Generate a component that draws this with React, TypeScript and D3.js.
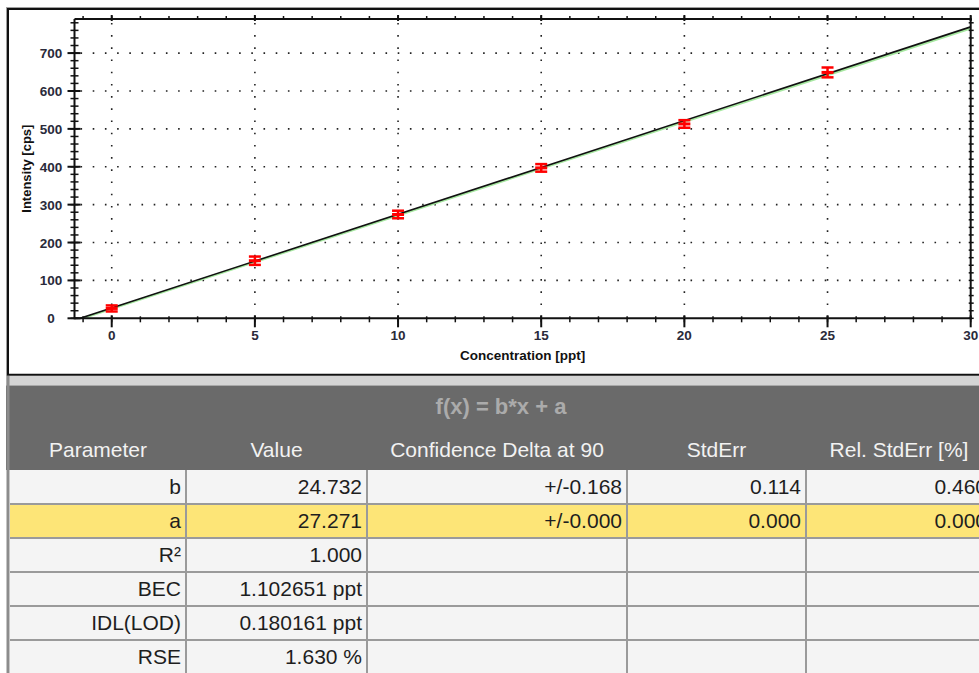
import React from "react";
import * as d3 from "d3";

// ---------- Chart data ----------
const concentrations = [0, 5, 10, 15, 20, 25];
const intensities = [26, 152, 274, 397, 513, 649];
const intensityErrors = [8, 11, 10, 10, 10, 13];
const slopeB = 24.732;
const interceptA = 27.271;
const weightedSlope = 24.68;
const weightedIntercept = 25.0;
const xTickValues = [0, 5, 10, 15, 20, 25, 30];
const xMinorTickValues = d3.range(-1, 31, 1);
const yTickValues = [0, 100, 200, 300, 400, 500, 600, 700];
const yMinorTickValues = d3.range(0, 790, 20);
const xAxisTitle = "Concentration [ppt]";
const yAxisTitle = "Intensity [cps]";

// ---------- Table data ----------
const tableTitle = "f(x) = b*x + a";
const tableHeaders = ["Parameter", "Value", "Confidence Delta at 90", "StdErr", "Rel. StdErr [%]"];
const paramNames = ["b", "a", "R²", "BEC", "IDL(LOD)", "RSE"];
const paramValues = ["24.732", "27.271", "1.000", "1.102651 ppt", "0.180161 ppt", "1.630 %"];
const confidenceDeltas = ["+/-0.168", "+/-0.000", "", "", "", ""];
const stdErrs = ["0.114", "0.000", "", "", "", ""];
const relStdErrs = ["0.460", "0.000", "", "", "", ""];
const highlightedRow = 1;

const W = 979;
const H = 673;

export default function App() {
  const plot = { left: 74.5, right: 970.7, top: 19, bottom: 318.3 };
  const x = d3.scaleLinear().domain([-1.3, 30]).range([plot.left, plot.right]);
  const y = d3.scaleLinear().domain([0, 790]).range([plot.bottom, plot.top]);

  const xStart = -interceptA / slopeB;
  const fitLine = d3
    .line<number>()
    .x((d) => x(d))
    .y((d) => y(slopeB * d + interceptA))([xStart, 30]);
  const wStart = -weightedIntercept / weightedSlope;
  const greenLine = d3
    .line<number>()
    .x((d) => x(d))
    .y((d) => y(weightedSlope * d + weightedIntercept))([wStart, 30]);

  const tickFont = { fontFamily: "'Liberation Sans', Arial, sans-serif", fontWeight: 700, fontSize: 13.5 };

  // table layout
  const colEdges = [10, 186, 367, 627, 806, 992];
  const rowTop = 470;
  const rowH = 34;
  const columns = [paramNames, paramValues, confidenceDeltas, stdErrs, relStdErrs];
  const cellFont = { fontFamily: "'Liberation Sans', Arial, sans-serif", fontSize: 21 };

  return (
    <div style={{ position: "fixed", left: 0, top: 0, width: W, height: H, overflow: "hidden", background: "#fff" }}>
      <svg width={W} height={H} style={{ display: "block" }}>
        <defs>
          <clipPath id="plotClip">
            <rect x={plot.left} y={plot.top} width={plot.right - plot.left} height={plot.bottom - plot.top} />
          </clipPath>
        </defs>
        <rect x={0} y={0} width={W} height={H} fill="#ffffff" />
        {/* chart panel frame */}
        <line x1={6} x2={W} y1={7.5} y2={7.5} stroke="#a0a0a0" strokeWidth={1} />
        <line x1={8} x2={W} y1={9} y2={9} stroke="#111" strokeWidth={2} />
        <line x1={6.5} x2={6.5} y1={7} y2={376} stroke="#a0a0a0" strokeWidth={1} />
        <line x1={8} x2={8} y1={8} y2={375} stroke="#111" strokeWidth={2} />
        <line x1={7} x2={W} y1={374.8} y2={374.8} stroke="#111" strokeWidth={2} />

        {/* grid */}
        <g stroke="#222" strokeWidth={1.6} strokeDasharray="1.6 10.6">
          {xTickValues.filter((v) => v < 30).map((v) => (
            <line key={"gx" + v} x1={x(v)} x2={x(v)} y1={plot.bottom - 1} y2={plot.top} />
          ))}
          {yTickValues.filter((v) => v > 0).map((v) => (
            <line key={"gy" + v} x1={plot.left + 6} x2={plot.right} y1={y(v)} y2={y(v)} />
          ))}
        </g>

        {/* regression lines */}
        <g clipPath="url(#plotClip)">
          <path d={greenLine || ""} fill="none" stroke="#a6e8a0" strokeWidth={2.2} />
          <path d={fitLine || ""} fill="none" stroke="#111" strokeWidth={1.6} />
        </g>

        {/* data points with error bars */}
        <g stroke="#ff0000" fill="none">
          {concentrations.map((c, i) => {
            const cx = x(c);
            const yTop = y(intensities[i] + intensityErrors[i]);
            const yBot = y(intensities[i] - intensityErrors[i]);
            const yc = y(intensities[i]);
            return (
              <g key={"pt" + i}>
                <line x1={cx} x2={cx} y1={yTop} y2={yBot} strokeWidth={2.5} />
                <line x1={cx - 6} x2={cx + 6} y1={yTop} y2={yTop} strokeWidth={2.5} />
                <line x1={cx - 6} x2={cx + 6} y1={yBot} y2={yBot} strokeWidth={2.5} />
                <line x1={cx - 6} x2={cx + 6} y1={yc} y2={yc} strokeWidth={3} />
              </g>
            );
          })}
        </g>

        {/* axes */}
        <g stroke="#111">
          <line x1={plot.left} x2={plot.right + 1} y1={plot.bottom} y2={plot.bottom} strokeWidth={2} />
          <line x1={plot.left} x2={plot.right + 1} y1={plot.top} y2={plot.top} strokeWidth={2} />
          <line x1={plot.left} x2={plot.left} y1={plot.top} y2={plot.bottom + 1} strokeWidth={2} />
          <line x1={plot.right} x2={plot.right} y1={plot.top} y2={plot.bottom + 1} strokeWidth={2} />
          {xMinorTickValues.map((v) => (
            <g key={"xm" + v}>
              <line x1={x(v)} x2={x(v)} y1={plot.bottom - 2} y2={plot.bottom + 4} strokeWidth={1.5} />
              <line x1={x(v)} x2={x(v)} y1={plot.top - 3} y2={plot.top + 1} strokeWidth={1.5} />
            </g>
          ))}
          {xTickValues.map((v) => (
            <g key={"xM" + v}>
              <line x1={x(v)} x2={x(v)} y1={plot.bottom - 3} y2={plot.bottom + 9} strokeWidth={2} />
              <line x1={x(v)} x2={x(v)} y1={plot.top - 4} y2={plot.top + 2} strokeWidth={2} />
            </g>
          ))}
          {yMinorTickValues.map((v) => (
            <g key={"ym" + v}>
              <line x1={plot.left - 4} x2={plot.left + 4} y1={y(v)} y2={y(v)} strokeWidth={1.5} />
              <line x1={plot.right - 2} x2={plot.right + 3} y1={y(v)} y2={y(v)} strokeWidth={1.5} />
            </g>
          ))}
          {yTickValues.map((v) => (
            <line key={"yM" + v} x1={plot.left - 7} x2={plot.left + 6} y1={y(v)} y2={y(v)} strokeWidth={2} />
          ))}
        </g>

        {/* tick labels */}
        <g fill="#2a2a3a" style={tickFont}>
          {xTickValues.map((v) => (
            <text key={"xl" + v} x={x(v)} y={340} textAnchor="middle">
              {v}
            </text>
          ))}
          {yTickValues.map((v) => (
            <text key={"yl" + v} x={51} y={y(v) + 5} textAnchor="middle">
              {v}
            </text>
          ))}
        </g>
        <text x={(plot.left + plot.right) / 2} y={360} textAnchor="middle" fill="#111" style={tickFont}>
          {xAxisTitle}
        </text>
        <text
          transform={`translate(31, ${(plot.top + plot.bottom) / 2}) rotate(-90)`}
          textAnchor="middle"
          fill="#111"
          style={{ ...tickFont, fontSize: 13 }}
        >
          {yAxisTitle}
        </text>

        {/* table */}
        <rect x={6} y={376} width={W} height={10} fill="#d4d4d4" />
        <rect x={6} y={386} width={W} height={rowTop - 386} fill="#6a6a6a" />
        <line x1={6} x2={W} y1={385.5} y2={385.5} stroke="#a8a8a8" strokeWidth={1} />
        <text
          x={(colEdges[0] + colEdges[5]) / 2}
          y={414}
          textAnchor="middle"
          fill="#ababab"
          style={{ fontFamily: "'Liberation Sans', Arial, sans-serif", fontWeight: 700, fontSize: 22 }}
        >
          {tableTitle}
        </text>
        {tableHeaders.map((h, i) => (
          <text
            key={"h" + i}
            x={(colEdges[i] + colEdges[i + 1]) / 2}
            y={457}
            textAnchor="middle"
            fill="#f2f2f2"
            style={cellFont}
          >
            {h}
          </text>
        ))}
        {paramNames.map((_, r) => (
          <rect
            key={"row" + r}
            x={colEdges[0]}
            y={rowTop + r * rowH}
            width={colEdges[5] - colEdges[0]}
            height={rowH}
            fill={r === highlightedRow ? "#fde577" : "#f4f4f4"}
          />
        ))}
        <g stroke="#9a9a9a" strokeWidth={2}>
          {paramNames.map((_, r) => (
            <line key={"hl" + r} x1={colEdges[0]} x2={W} y1={rowTop + (r + 1) * rowH} y2={rowTop + (r + 1) * rowH} />
          ))}
          {colEdges.slice(1, 5).map((cx, i) => (
            <line key={"vl" + i} x1={cx} x2={cx} y1={rowTop} y2={H} />
          ))}
        </g>
        <line x1={8} x2={8} y1={376} y2={H} stroke="#8c8c8c" strokeWidth={3} />
        {columns.map((col, c) =>
          col.map((val, r) =>
            val ? (
              <text
                key={`c${c}r${r}`}
                x={colEdges[c + 1] - 5}
                y={rowTop + r * rowH + 24}
                textAnchor="end"
                fill="#1e1e1e"
                style={cellFont}
              >
                {val}
              </text>
            ) : null
          )
        )}
      </svg>
    </div>
  );
}
